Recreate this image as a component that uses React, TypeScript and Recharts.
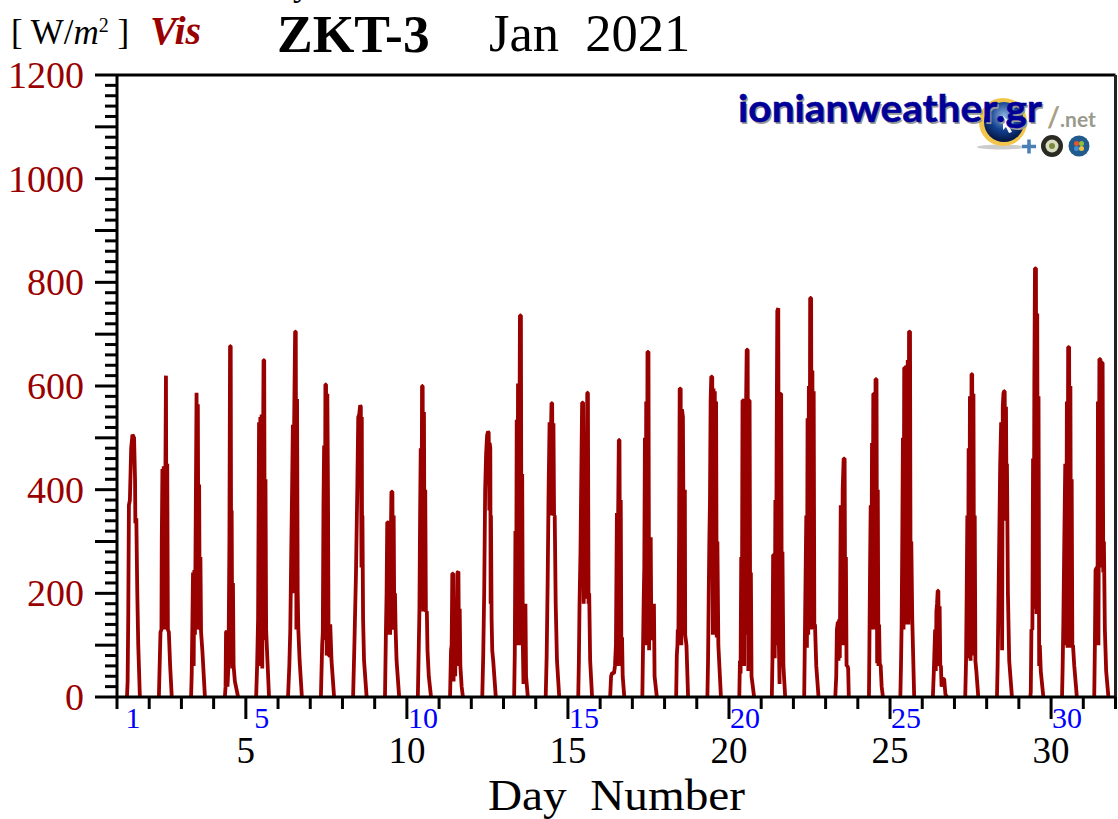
import { LineChart, Line, XAxis, YAxis, ReferenceLine } from "recharts";

// Each day: [fraction of the day, W/m2]
const day01 = [[.31,0],[.33,30],[.35,160],[.37,370],[.40,380],[.44,480],[.48,506],[.53,500],[.56,420],[.57,335],[.60,345],[.63,200],[.66,100],[.71,0]];
const day02 = [[.30,0],[.35,125],[.38,130],[.39,300],[.41,440],[.43,130],[.45,445],[.48,200],[.52,620],[.54,130],[.56,450],[.58,130],[.61,125],[.65,60],[.70,0]];
const day03 = [[.30,0],[.32,45],[.34,140],[.36,240],[.38,60],[.40,245],[.42,120],[.45,400],[.47,587],[.49,130],[.51,565],[.53,160],[.55,410],[.57,130],[.59,270],[.61,125],[.65,90],[.73,0]];
const day04 = [[.35,0],[.37,20],[.385,125],[.41,127],[.43,20],[.46,60],[.49,300],[.51,677],[.53,677],[.55,80],[.56,360],[.58,55],[.60,220],[.62,60],[.66,30],[.76,0]];
const day05 = [[.32,0],[.35,60],[.38,150],[.41,530],[.43,60],[.45,540],[.47,180],[.49,545],[.51,55],[.53,430],[.55,650],[.57,650],[.59,110],[.61,420],[.63,130],[.65,100],[.72,0]];
const day06 = [[.31,0],[.35,60],[.38,130],[.41,280],[.44,420],[.46,525],[.48,200],[.50,530],[.53,705],[.55,705],[.57,130],[.59,575],[.61,200],[.63,130],[.67,70],[.74,0]];
const day07 = [[.33,0],[.37,100],[.39,125],[.41,370],[.43,485],[.45,110],[.47,603],[.49,603],[.51,80],[.53,585],[.55,400],[.57,80],[.59,80],[.62,140],[.66,70],[.74,0]];
const day08 = [[.33,0],[.37,100],[.42,240],[.46,400],[.49,540],[.52,545],[.55,563],[.57,560],[.59,250],[.60,540],[.61,250],[.62,350],[.64,150],[.67,70],[.75,0]];
const day09 = [[.32,0],[.35,130],[.37,200],[.39,337],[.42,337],[.44,120],[.46,330],[.48,120],[.50,300],[.52,396],[.55,396],[.57,130],[.59,350],[.61,130],[.63,200],[.65,130],[.68,70],[.76,0]];
const day10 = [[.34,0],[.37,100],[.39,170],[.41,350],[.43,480],[.45,170],[.47,600],[.49,600],[.51,165],[.53,550],[.55,170],[.57,400],[.59,165],[.62,165],[.64,90],[.68,40],[.75,0]];
const day11 = [[.34,0],[.37,90],[.39,100],[.41,238],[.44,238],[.45,30],[.47,190],[.50,40],[.52,190],[.54,60],[.57,240],[.60,242],[.62,60],[.64,170],[.66,60],[.70,20],[.74,0]];
const day12 = [[.34,0],[.37,80],[.40,200],[.43,400],[.46,470],[.49,505],[.52,512],[.54,510],[.56,360],[.57,490],[.59,480],[.60,180],[.61,350],[.63,150],[.65,90],[.68,70],[.76,0]];
const day13 = [[.33,0],[.35,85],[.37,320],[.39,100],[.41,535],[.43,100],[.45,605],[.47,100],[.51,736],[.54,736],[.56,100],[.58,430],[.60,100],[.62,25],[.64,180],[.66,30],[.68,180],[.70,40],[.755,0]];
const day14 = [[.31,0],[.34,80],[.37,220],[.40,400],[.43,530],[.45,350],[.47,500],[.49,567],[.51,567],[.53,350],[.55,528],[.57,350],[.59,350],[.62,180],[.66,70],[.73,0]];
const day15 = [[.32,0],[.34,70],[.36,180],[.39,280],[.41,400],[.44,568],[.47,568],[.49,180],[.51,310],[.53,200],[.55,190],[.57,315],[.60,587],[.62,587],[.64,180],[.66,200],[.69,70],[.75,0]];
const day16 = [[.31,0],[.34,40],[.37,46],[.43,46],[.46,60],[.49,100],[.52,355],[.54,60],[.56,360],[.58,496],[.60,496],[.62,100],[.64,380],[.66,60],[.68,115],[.70,40],[.75,0]];
const day17 = [[.31,0],[.33,90],[.35,180],[.37,250],[.39,500],[.41,100],[.43,570],[.45,100],[.47,666],[.50,666],[.52,90],[.54,300],[.57,308],[.59,110],[.62,120],[.67,180],[.69,40],[.76,0]];
const day18 = [[.36,0],[.38,80],[.40,100],[.41,130],[.43,120],[.45,300],[.47,595],[.50,595],[.52,100],[.54,555],[.57,540],[.59,300],[.61,120],[.63,400],[.64,120],[.68,100],[.73,0]];
const day19 = [[.33,0],[.35,70],[.37,190],[.39,300],[.41,380],[.43,570],[.45,618],[.48,618],[.50,120],[.52,595],[.54,120],[.56,590],[.58,120],[.60,570],[.62,115],[.64,300],[.67,100],[.75,0]];
const day20 = [[.32,0],[.34,70],[.36,45],[.38,270],[.40,100],[.42,572],[.45,572],[.47,60],[.49,480],[.51,120],[.53,560],[.55,670],[.58,670],[.60,50],[.62,572],[.64,572],[.66,90],[.68,240],[.70,40],[.78,0]];
const day21 = [[.33,0],[.35,75],[.37,274],[.40,274],[.42,75],[.44,380],[.46,100],[.48,500],[.50,745],[.53,750],[.55,100],[.57,25],[.59,585],[.62,585],[.64,100],[.66,280],[.69,60],[.745,0]];
const day22 = [[.335,0],[.35,80],[.37,190],[.40,350],[.42,95],[.44,538],[.46,120],[.48,600],[.50,150],[.52,770],[.55,770],[.57,130],[.59,630],[.61,130],[.63,590],[.65,130],[.67,140],[.71,60],[.78,0]];
const day23 = [[.30,0],[.33,40],[.35,130],[.38,145],[.40,70],[.42,150],[.44,75],[.47,370],[.50,100],[.53,400],[.56,460],[.59,460],[.61,100],[.63,270],[.65,60],[.68,60],[.70,55],[.72,0]];
const day24 = [[.345,0],[.36,100],[.38,250],[.40,370],[.42,130],[.44,490],[.46,130],[.48,585],[.51,585],[.53,130],[.55,613],[.58,613],[.60,65],[.62,400],[.64,60],[.66,140],[.68,65],[.71,60],[.74,20],[.78,0]];
const day25 = [[.32,0],[.34,60],[.36,140],[.38,300],[.40,500],[.42,130],[.44,635],[.47,635],[.49,140],[.51,640],[.53,150],[.55,650],[.57,140],[.59,705],[.62,705],[.64,150],[.66,300],[.69,150],[.75,0]];
const day26 = [[.33,0],[.36,50],[.38,90],[.40,130],[.42,50],[.44,165],[.46,180],[.48,205],[.50,205],[.52,60],[.54,175],[.56,60],[.58,60],[.60,20],[.64,35],[.68,35],[.72,5],[.77,0]];
const day27 = [[.335,0],[.36,70],[.38,200],[.40,350],[.42,75],[.44,480],[.46,75],[.48,580],[.50,70],[.53,623],[.55,623],[.57,80],[.59,585],[.61,100],[.63,350],[.65,70],[.68,50],[.74,0]];
const day28 = [[.32,0],[.34,60],[.36,150],[.39,300],[.42,450],[.45,530],[.48,90],[.50,560],[.52,585],[.54,590],[.56,590],[.58,340],[.60,560],[.62,340],[.63,450],[.66,200],[.70,70],[.785,0]];
const day29 = [[.355,0],[.37,10],[.39,130],[.42,130],[.44,460],[.46,170],[.48,600],[.50,827],[.53,827],[.55,160],[.57,740],[.59,180],[.61,580],[.63,60],[.65,100],[.68,50],[.76,0]];
const day30 = [[.34,0],[.36,60],[.38,140],[.41,300],[.44,450],[.47,100],[.49,570],[.51,95],[.53,675],[.56,675],[.58,95],[.60,600],[.62,100],[.64,420],[.66,100],[.68,100],[.72,60],[.80,0]];
const day31 = [[.34,0],[.36,100],[.38,245],[.42,250],[.44,100],[.455,570],[.47,100],[.50,652],[.53,652],[.55,250],[.57,645],[.60,645],[.62,240],[.64,300],[.67,130],[.71,50],[.78,0]];

const allDays = [
  day01, day02, day03, day04, day05, day06, day07, day08, day09, day10,
  day11, day12, day13, day14, day15, day16, day17, day18, day19, day20,
  day21, day22, day23, day24, day25, day26, day27, day28, day29, day30, day31,
];

const dayTicks = [1, 2, 3, 4, 5, 6, 7, 8, 9, 10, 11, 12, 13, 14, 15, 16, 17, 18, 19, 20, 21, 22, 23, 24, 25, 26, 27, 28, 29, 30, 31, 32];
const blackDayLabels = [5, 10, 15, 20, 25, 30];
const blueDayLabels = [1, 5, 10, 15, 20, 25, 30];
const visTicks = [0, 20, 40, 60, 80, 100, 120, 140, 160, 180, 200, 220, 240, 260, 280, 300, 320, 340, 360, 380, 400, 420, 440, 460, 480, 500, 520, 540, 560, 580, 600, 620, 640, 660, 680, 700, 720, 740, 760, 780, 800, 820, 840, 860, 880, 900, 920, 940, 960, 980, 1000, 1020, 1040, 1060, 1080, 1100, 1120, 1140, 1160, 1180, 1200];

// a null row between days keeps the line off the axis overnight
const chartData = allDays.flatMap((points, i) => [
  ...points.map(([t, v]) => ({ day: i + 1 + t, vis: v as number | null })),
  { day: i + 1.9, vis: null },
]);

const serif = "'Liberation Serif', serif";
const RED = "#990000";

function DayTick({ x, y, payload }: any) {
  const d = payload.value;
  const major = blackDayLabels.includes(d);
  return (
    <g fontFamily={serif}>
      <line x1={x} x2={x} y1={y} y2={y + (major ? 22 : 12)} stroke="#000" strokeWidth={3} />
      {major && (
        <text x={x} y={763} textAnchor="middle" fontSize={37} fill="#000">
          {d}
        </text>
      )}
      {blueDayLabels.includes(d) && (
        <text x={x + 16} y={728} textAnchor="middle" fontSize={30} fill="#0000ff">
          {d}
        </text>
      )}
    </g>
  );
}

function VisTick({ x, y, payload }: any) {
  const v = payload.value;
  return (
    <g fontFamily={serif}>
      <line x1={x} x2={x - (v % 100 === 0 ? 22 : 12)} y1={y} y2={y} stroke="#000" strokeWidth={3} />
      {v % 200 === 0 && (
        <text x={84} y={y + 13} textAnchor="end" fontSize={38} fill={RED}>
          {v}
        </text>
      )}
    </g>
  );
}

function Overlay() {
  return (
    <svg width={1118} height={819} style={{ position: "absolute", left: 0, top: 0 }}>
      <defs>
        <radialGradient id="globe" cx="50%" cy="35%" r="65%">
          <stop offset="0%" stopColor="#8fb4e0" />
          <stop offset="55%" stopColor="#12408f" />
          <stop offset="100%" stopColor="#04143f" />
        </radialGradient>
      </defs>
      <g fontFamily={serif}>
        <text x={293} y={-5} fontSize={36} fill="#000">y</text>
        <text x={11} y={44} fontSize={35} fill="#000" xmlSpace="preserve">
          {"[ W/"}
          <tspan fontStyle="italic">m</tspan>
          <tspan fontSize={20} dy={-12}>2</tspan>
          <tspan dy={12}>{" ]"}</tspan>
        </text>
        <text x={150} y={44} fontSize={40} fontWeight="bold" fontStyle="italic" fill={RED}>Vis</text>
        <text x={277} y={52} fontSize={53.5} fontWeight="bold" fill="#000">ZKT-3</text>
        <text x={489} y={51} fontSize={52.5} fill="#000" xmlSpace="preserve">{"Jan  2021"}</text>
        <text x={488} y={810} fontSize={44} fill="#000" xmlSpace="preserve" textLength={257} lengthAdjust="spacingAndGlyphs">{"Day  Number"}</text>
      </g>

      {/* ionianweather logo */}
      <ellipse cx={1001} cy={147} rx={24} ry={2.5} fill="#cccccc" />
      <circle cx={1003} cy={122} r={24} fill="#f2c64d" />
      <circle cx={1004} cy={122} r={20} fill="url(#globe)" />
      <path d="M1003 116l11 9-5 1 3 6-3 1-3-6-3 3z" fill="#ffffff" />
      <g fontFamily="Lato, sans-serif" fontWeight="bold" fontSize={38}>
        <text x={739.5} y={124} fill="#999999" textLength={304} lengthAdjust="spacingAndGlyphs">ionianweather.gr</text>
        <text x={738} y={122} fill="#000099" stroke="#000099" strokeWidth={0.5} textLength={304} lengthAdjust="spacingAndGlyphs">ionianweather.gr</text>
      </g>
      <text x={1047} y={127} fontFamily="Lato, sans-serif" fontWeight="bold" fontSize={21} fill="#9a9a8c"><tspan fontSize={28} fill="#a89f86">/</tspan><tspan>.net</tspan></text>
      <path d="M1022 146.5h14M1029 139.5v14" stroke="#4a7fb5" strokeWidth={3.5} />
      <circle cx={1052} cy={146} r={11} fill="#2a2a22" />
      <circle cx={1052} cy={146} r={6.5} fill="#d8dcc0" />
      <circle cx={1052} cy={146} r={3} fill="#7c8a3c" />
      <circle cx={1079} cy={146} r={10.5} fill="#215a8c" />
      <circle cx={1076.5} cy={143.5} r={2.5} fill="#e2572b" />
      <circle cx={1081.5} cy={143.5} r={2.5} fill="#8fbf3f" />
      <circle cx={1076.5} cy={148.5} r={2.5} fill="#3d8fdc" />
      <circle cx={1081.5} cy={148.5} r={2.5} fill="#f0c23c" />
    </svg>
  );
}

export default function App() {
  return (
    <div style={{ position: "absolute", left: 0, top: 0, width: 1118, height: 819, overflow: "hidden", background: "#fff" }}>
      <LineChart
        width={1118}
        height={819}
        data={chartData}
        margin={{ top: 75, right: 2.5, bottom: 0, left: 0 }}
      >
        <XAxis
          dataKey="day"
          type="number"
          domain={[1, 32]}
          ticks={dayTicks}
          interval={0}
          height={122}
          stroke="#000"
          strokeWidth={3}
          tickLine={false}
          tickSize={0}
          tickMargin={0}
          tick={<DayTick />}
        />
        <YAxis
          type="number"
          domain={[0, 1200]}
          ticks={visTicks}
          interval={0}
          width={117}
          stroke="#000"
          strokeWidth={3}
          tickLine={false}
          tickSize={0}
          tickMargin={0}
          tick={<VisTick />}
        />
        <ReferenceLine y={1200} stroke="#000" strokeWidth={3} />
        <ReferenceLine x={32} stroke="#222" strokeWidth={3} />
        <Line
          dataKey="vis"
          type="linear"
          stroke={RED}
          strokeWidth={3.8}
          strokeLinejoin="bevel"
          dot={false}
          activeDot={false}
          connectNulls={false}
          isAnimationActive={false}
        />
      </LineChart>
      <Overlay />
    </div>
  );
}
